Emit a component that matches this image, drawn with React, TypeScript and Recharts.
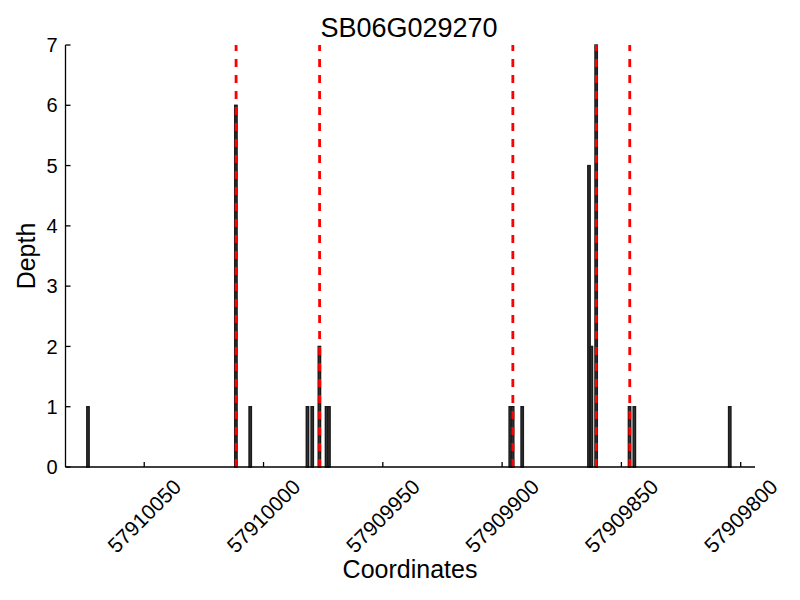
import React from 'react';
import { BarChart, Bar, XAxis, YAxis, ReferenceLine } from 'recharts';

// read depth per genomic coordinate (bar spans [pos, pos + 1])
const positions = [
    57910073, 57910011, 57910005, 57909981, 57909979, 57909976, 57909973, 57909972,
    57909896, 57909895, 57909891, 57909863, 57909862, 57909860, 57909846, 57909844, 57909804,
];
const depths = [1, 6, 1, 1, 1, 2, 1, 1, 1, 1, 1, 5, 2, 7, 1, 1, 1];

// red dashed markers
const markers = [57910011, 57909976, 57909895, 57909860, 57909846];

const xTicks = [57910050, 57910000, 57909950, 57909900, 57909850, 57909800];
const yTicks = [0, 1, 2, 3, 4, 5, 6, 7];
const xDomain = [57909794, 57910083];

const data = positions.map((p, i) => ({ coord: p + 0.5, depth: depths[i] }));

const FONT = '"Liberation Sans", Arial, Helvetica, sans-serif';
const UNIT_PX = 689.5 / (xDomain[1] - xDomain[0]);

const DepthBar = (props: any) => {
    const { x, y, width, height } = props;
    if (!height) return null;
    const cx = x + width / 2;
    return (
        <rect
            x={cx - UNIT_PX / 2}
            y={y}
            width={UNIT_PX}
            height={height}
            fill="#333333"
            stroke="#1a1a1a"
            strokeWidth={1.4}
        />
    );
};

const CoordTick = (props: any) => {
    const { x, y, payload } = props;
    const cy = y + 54;
    return (
        <text
            x={x}
            y={cy}
            transform={`rotate(-45, ${x}, ${cy})`}
            textAnchor="middle"
            dominantBaseline="central"
            fontSize={21}
            fontFamily={FONT}
            fill="#000"
        >
            {payload.value}
        </text>
    );
};

export default function App() {
    return (
        <div style={{ position: 'absolute', left: 0, top: 0, width: 800, height: 600, background: '#fff' }}>
            <BarChart
                width={800}
                height={600}
                data={data}
                margin={{ top: 45, right: 45, bottom: 13, left: 0 }}
                barSize={2}
            >
                <XAxis
                    dataKey="coord"
                    type="number"
                    domain={xDomain}
                    reversed
                    allowDataOverflow
                    ticks={xTicks}
                    interval={0}
                    height={120}
                    stroke="#000"
                    strokeWidth={1.3}
                    tickSize={-5}
                    tickMargin={0}
                    tick={<CoordTick />}
                />
                <YAxis
                    type="number"
                    domain={[0, 7]}
                    ticks={yTicks}
                    interval={0}
                    width={65.5}
                    stroke="#000"
                    strokeWidth={1.3}
                    tickSize={-5}
                    tickMargin={13}
                    tick={{ fontSize: 20, fill: '#000', fontFamily: FONT }}
                />
                <Bar dataKey="depth" shape={<DepthBar />} isAnimationActive={false} />
                {markers.map((m) => (
                    <ReferenceLine
                        key={m}
                        x={m + 0.5}
                        stroke="#ff0000"
                        strokeWidth={2.8}
                        strokeDasharray="8 8"
                    />
                ))}
            </BarChart>
            <svg
                width={800}
                height={600}
                style={{ position: 'absolute', left: 0, top: 0, pointerEvents: 'none' }}
                fontFamily={FONT}
            >
                <text x={409} y={37} textAnchor="middle" fontSize={27} fill="#000">
                    SB06G029270
                </text>
                <text x={410} y={578} textAnchor="middle" fontSize={25} fill="#000">
                    Coordinates
                </text>
                <text x={35} y={256} textAnchor="middle" fontSize={25} fill="#000" transform="rotate(-90, 35, 256)">
                    Depth
                </text>
            </svg>
        </div>
    );
}
